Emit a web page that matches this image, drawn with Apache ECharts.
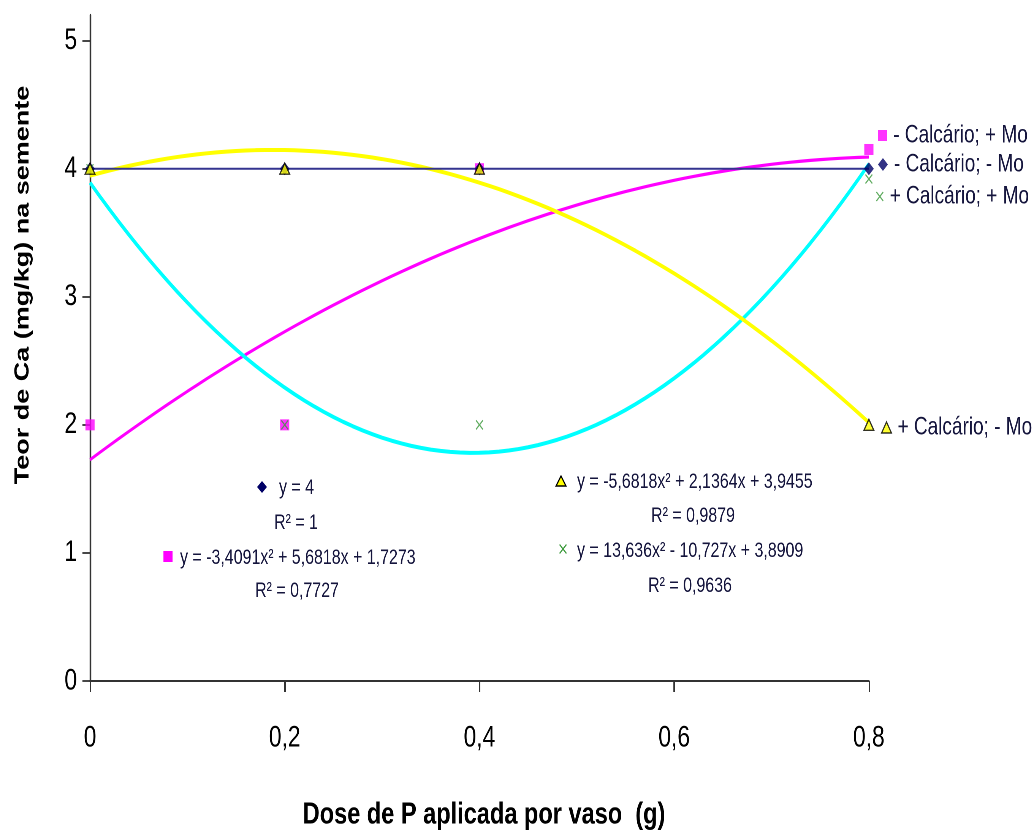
<!DOCTYPE html>
<html>
<head>
<meta charset="utf-8">
<script src="https://cdn.jsdelivr.net/npm/echarts@6/dist/echarts.min.js"></script>
<style>
  html, body { margin: 0; padding: 0; background: #fff; overflow: hidden; }
  /* The chart is laid out wide and squeezed horizontally, giving condensed lettering */
  #chart { width: 1363px; height: 835px; transform: scaleX(0.76); transform-origin: 0 0; }
</style>
</head>
<body>
<div id="chart"></div>
<script>
// Doses of P (g per pot)
const doses = [0, 0.2, 0.4, 0.8];

// Ca content in seed (mg/kg) per treatment
const semCalcMaisMo = [2, 2, 4, 4.15];   // - Calcário; + Mo
const semCalcSemMo  = [4, 4, 4, 4];      // - Calcário; - Mo
const comCalcMaisMo = [4, 2, 2, 3.92];   // + Calcário; + Mo
const comCalcSemMo  = [4, 4, 4, 2];      // + Calcário; - Mo

// Polynomial trend coefficients [a, b, c] for y = a x^2 + b x + c
const trendSemCalcMaisMo = [-3.4091, 5.6818, 1.7273];
const trendSemCalcSemMo  = [0, 0, 4];
const trendComCalcMaisMo = [13.636, -10.727, 3.8909];
const trendComCalcSemMo  = [-5.6818, 2.1364, 3.9455];

// Axis ticks
const xTicks = [0, 0.2, 0.4, 0.6, 0.8];
const yTicks = [0, 1, 2, 3, 4, 5];

const names = ['- Calcário; + Mo', '- Calcário; - Mo', '+ Calcário; + Mo', '+ Calcário; - Mo'];

const S = 0.76;                       // horizontal squeeze applied by CSS
const sx = v => v / S;                // page x -> chart x
const SANS = '"Liberation Sans", Arial, sans-serif';
const TXT = '#15153d';
const X_PTS = [[0, 1], [1, 0], [5, 4], [9, 0], [10, 1], [6, 5], [10, 9], [9, 10], [5, 6], [1, 10], [0, 9], [4, 5]];
const X_PATH = 'path://M' + X_PTS.map(p => p.join(',')).join(' L') + ' Z';

function pairs(xs, ys) { return xs.map((x, i) => [x, ys[i]]); }

// Sample a quadratic trend across the dose range
function trendCurve(coef) {
  const pts = [];
  const n = 80;
  for (let i = 0; i <= n; i++) {
    const x = xTicks[0] + (xTicks[xTicks.length - 1] - xTicks[0]) * i / n;
    pts.push([x, coef[0] * x * x + coef[1] * x + coef[2]]);
  }
  return pts;
}

function trendSeries(coef, color, width, z) {
  return {
    type: 'line', data: trendCurve(coef), showSymbol: false, silent: true,
    lineStyle: { color: color, width: width }, z: z, legendHoverLink: false
  };
}

function legendFor(name, icon, top, left, w, h, style) {
  return {
    data: [{ name: name, icon: icon, itemStyle: style }],
    left: sx(left), top: top, padding: 0, itemWidth: w, itemHeight: h,
    selectedMode: false,
    textStyle: { fontFamily: SANS, fontSize: 25, color: TXT, padding: [0, 0, 0, 3] }
  };
}

// Annotation text (trend equations)
function note(text, x, y, align) {
  return {
    type: 'text', x: sx(x), y: y, z: 20,
    style: { text: text, x: 0, y: 0, fill: TXT, font: '21px ' + SANS,
             textAlign: align, textVerticalAlign: 'middle' }
  };
}

const chart = echarts.init(document.getElementById('chart'), null, { renderer: 'canvas', devicePixelRatio: 2 });

chart.setOption({
  backgroundColor: '#ffffff',
  animation: false,
  grid: { left: sx(90), right: sx(167), top: 15, bottom: 154, containLabel: false },
  xAxis: {
    type: 'value', min: 0, max: 0.8, interval: 0.2,
    axisLine: { show: true, lineStyle: { color: '#333', width: 2 } },
    axisTick: { show: true, length: 11, lineStyle: { color: '#333', width: 2 }, customValues: xTicks },
    axisLabel: {
      customValues: xTicks, margin: 42, color: '#000', fontFamily: SANS, fontSize: 30,
      formatter: v => String(+v.toFixed(1)).replace('.', ',')
    },
    splitLine: { show: false }
  },
  yAxis: {
    type: 'value', min: 0, max: 5.2, interval: 1,
    axisLine: { show: true, lineStyle: { color: '#333', width: 2.2 } },
    axisTick: { show: true, length: 10, lineStyle: { color: '#333', width: 1.8 }, customValues: yTicks },
    axisLabel: { customValues: yTicks, margin: 17, color: '#000', fontFamily: SANS, fontSize: 30 },
    splitLine: { show: false }
  },
  legend: [
    legendFor(names[0], 'rect', 123, 878, 12, 11, { color: '#ff00ff' }),
    legendFor(names[1], 'diamond', 152, 878, 13, 13, { color: '#000066' }),
    legendFor(names[2], X_PATH, 184, 876, 10, 10, { color: '#3c9a3c' }),
    legendFor(names[3], 'triangle', 415, 881, 13, 11, { color: '#ffff00', borderColor: '#000', borderWidth: 1.5 })
  ],
  series: [
    trendSeries(trendSemCalcMaisMo, '#ff00ff', 3.2, 2),
    trendSeries(trendComCalcMaisMo, '#00ffff', 4, 2),
    trendSeries(trendComCalcSemMo, '#ffff00', 4, 2),
    trendSeries(trendSemCalcSemMo, '#33338f', 2, 3),
    {
      name: names[0], type: 'scatter', data: pairs(doses, semCalcMaisMo),
      symbol: 'rect', symbolSize: [12, 11], itemStyle: { color: '#ff00ff' }, z: 5
    },
    {
      name: names[1], type: 'scatter', data: pairs(doses, semCalcSemMo),
      symbol: 'diamond', symbolSize: [13, 13], itemStyle: { color: '#000066' }, z: 6
    },
    {
      name: names[2], type: 'scatter', data: pairs(doses, comCalcMaisMo),
      symbol: X_PATH, symbolSize: [10, 10], itemStyle: { color: '#3c9a3c' }, z: 7
    },
    {
      name: names[3], type: 'scatter', data: pairs(doses, comCalcSemMo),
      symbol: 'triangle', symbolSize: [13, 11],
      itemStyle: { color: '#ffff00', borderColor: '#000', borderWidth: 1.5 }, z: 8
    }
  ],
  graphic: [
    // Axis titles
    {
      type: 'text', x: sx(484), y: 815, z: 20,
      style: { text: 'Dose de P aplicada por vaso  (g)', x: 0, y: 0, fill: '#000',
               font: 'bold 31px ' + SANS, textAlign: 'center', textVerticalAlign: 'middle' }
    },
    {
      type: 'text', x: sx(23), y: 285, rotation: Math.PI / 2, z: 20,
      style: { text: 'Teor de Ca (mg/kg) na semente', x: 0, y: 0, fill: '#000',
               font: 'bold 27px ' + SANS, textAlign: 'center', textVerticalAlign: 'middle' }
    },

    // Trend equation keys
    { type: 'polygon', z: 20, shape: { points: [[sx(262), 481], [sx(262) + 6.5, 487], [sx(262), 493], [sx(262) - 6.5, 487]] }, style: { fill: '#000066' } },
    { type: 'rect', z: 20, shape: { x: sx(168) - 6, y: 551, width: 12, height: 11 }, style: { fill: '#ff00ff' } },
    { type: 'polygon', z: 20, shape: { points: [[sx(561), 476], [sx(561) + 6.5, 486], [sx(561) - 6.5, 486]] }, style: { fill: '#ffff00', stroke: '#000', lineWidth: 1.5 } },
    { type: 'polygon', z: 20, shape: { points: X_PTS.map(p => [sx(563) - 5 + p[0], 544 + p[1]]) }, style: { fill: '#3c9a3c' } },

    // Trend equations
    note('y = 4', 279, 488, 'left'),
    note('R² = 1', 296, 523, 'center'),
    note('y = -3,4091x² + 5,6818x + 1,7273', 180, 558, 'left'),
    note('R² = 0,7727', 297, 591, 'center'),
    note('y = -5,6818x² + 2,1364x + 3,9455', 577, 482, 'left'),
    note('R² = 0,9879', 693, 516, 'center'),
    note('y = 13,636x² - 10,727x + 3,8909', 577, 551, 'left'),
    note('R² = 0,9636', 690, 586, 'center')
  ]
});
</script>
</body>
</html>
